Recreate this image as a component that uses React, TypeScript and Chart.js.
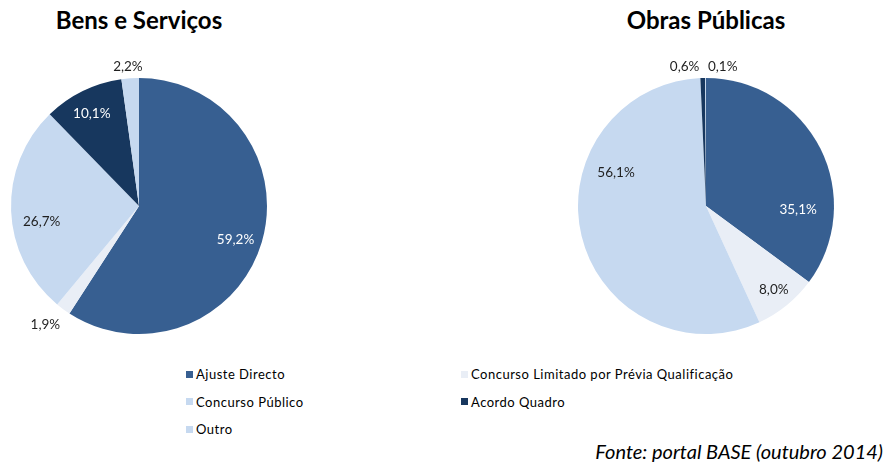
import React, { useEffect, useRef } from "react";
import { Chart, registerables } from "chart.js";

Chart.register(...registerables);

const categories = [
  "Ajuste Directo",
  "Concurso Limitado por Prévia Qualificação",
  "Concurso Público",
  "Acordo Quadro",
  "Outro",
];
const bensValues = [59.2, 1.9, 26.7, 10.1, 2.2];
const obrasValues = [35.1, 8.0, 56.1, 0.6, 0.1];
const colors = ["#375F91", "#E9EEF6", "#C6D9F0", "#17375E", "#C6D9F0"];

const legendOrder = [0, 1, 2, 3, 4];

// label placement styles: [angle offset in degrees from slice middle, radius factor]
const bensLabelPlace = [
  [3, 0.8],
  [2, 1.18],
  [-7, 0.77],
  [-1, 0.81],
  [-0.6, 1.09],
];
const obrasLabelPlace = [
  [29, 0.72],
  [0, 0.84],
  [34, 0.75],
  [-7.3, 1.1],
  [7, 1.1],
];
const bensLabelColors = ["#ffffff", "#1f1f1f", "#1f1f1f", "#ffffff", "#1f1f1f"];
const obrasLabelColors = ["#ffffff", "#1f1f1f", "#1f1f1f", "#1f1f1f", "#1f1f1f"];

const FONT = "Lato, 'Open Sans', sans-serif";

function fmt(v: number) {
  return v.toFixed(1).replace(".", ",") + "%";
}

function PieChart(props: {
  values: number[];
  place: number[][];
  labelColors: string[];
  left: number;
  top: number;
}) {
  const ref = useRef<HTMLCanvasElement | null>(null);
  useEffect(() => {
    if (!ref.current) return;
    const labelPlugin = {
      id: "pieLabels",
      afterDatasetsDraw(chart: any) {
        const ctx = chart.ctx;
        const meta = chart.getDatasetMeta(0);
        ctx.save();
        ctx.font = "13.5px " + FONT;
        ctx.textAlign = "center";
        ctx.textBaseline = "middle";
        meta.data.forEach((el: any, i: number) => {
          const p = el.getProps(["x", "y", "startAngle", "endAngle", "outerRadius"], true);
          const mid = (p.startAngle + p.endAngle) / 2 + (props.place[i][0] * Math.PI) / 180;
          const r = p.outerRadius * props.place[i][1];
          ctx.fillStyle = props.labelColors[i];
          ctx.fillText(fmt(props.values[i]), p.x + Math.cos(mid) * r, p.y + Math.sin(mid) * r);
        });
        ctx.restore();
      },
    };
    const chart = new Chart(ref.current, {
      type: "pie",
      data: {
        labels: categories,
        datasets: [
          {
            data: props.values,
            backgroundColor: colors,
            borderWidth: 0,
            hoverOffset: 0,
          },
        ],
      },
      options: {
        responsive: false,
        maintainAspectRatio: false,
        animation: false,
        radius: 128,
        layout: { padding: 0 },
        events: [],
        plugins: {
          legend: { display: false },
          tooltip: { enabled: false },
          title: { display: false },
        },
      } as any,
      plugins: [labelPlugin],
    });
    return () => chart.destroy();
  }, []);
  return (
    <canvas
      ref={ref}
      width={320}
      height={320}
      style={{ position: "absolute", left: props.left, top: props.top, width: 320, height: 320 }}
    />
  );
}

export default function App() {
  const titleStyle: React.CSSProperties = {
    position: "absolute",
    top: 6,
    width: 300,
    textAlign: "center",
    fontFamily: FONT,
    fontWeight: 700,
    fontSize: 24,
    lineHeight: 1.2,
    color: "#000",
  };
  return (
    <div
      style={{
        position: "fixed",
        left: 0,
        top: 0,
        width: 886,
        height: 465,
        background: "#fff",
        overflow: "hidden",
        fontFamily: FONT,
      }}
    >
      <div style={{ ...titleStyle, left: 139 - 150 }}>Bens e Serviços</div>
      <div style={{ ...titleStyle, left: 706 - 150 }}>Obras Públicas</div>
      <PieChart values={bensValues} place={bensLabelPlace} labelColors={bensLabelColors} left={139 - 160} top={206 - 160} />
      <PieChart values={obrasValues} place={obrasLabelPlace} labelColors={obrasLabelColors} left={706 - 160} top={206 - 160} />
      {legendOrder.map((ci, k) => {
        const col = k % 2;
        const row = Math.floor(k / 2);
        return (
          <div
            key={ci}
            style={{
              position: "absolute",
              left: col === 0 ? 186 : 461,
              top: 374 + row * 27.5 - 8,
              height: 16,
              display: "flex",
              alignItems: "center",
              fontSize: 13,
              letterSpacing: 0.5,
              color: "#000",
              whiteSpace: "nowrap",
            }}
          >
            <span
              style={{
                display: "inline-block",
                width: 7,
                height: 7,
                background: colors[ci],
                marginRight: 3,
              }}
            />
            {categories[ci]}
          </div>
        );
      })}
      <div
        style={{
          position: "absolute",
          right: 3,
          top: 439,
          fontStyle: "italic",
          fontSize: 20,
          lineHeight: 1.2,
          color: "#000",
          whiteSpace: "nowrap",
        }}
      >
        Fonte: portal BASE (outubro 2014)
      </div>
    </div>
  );
}
